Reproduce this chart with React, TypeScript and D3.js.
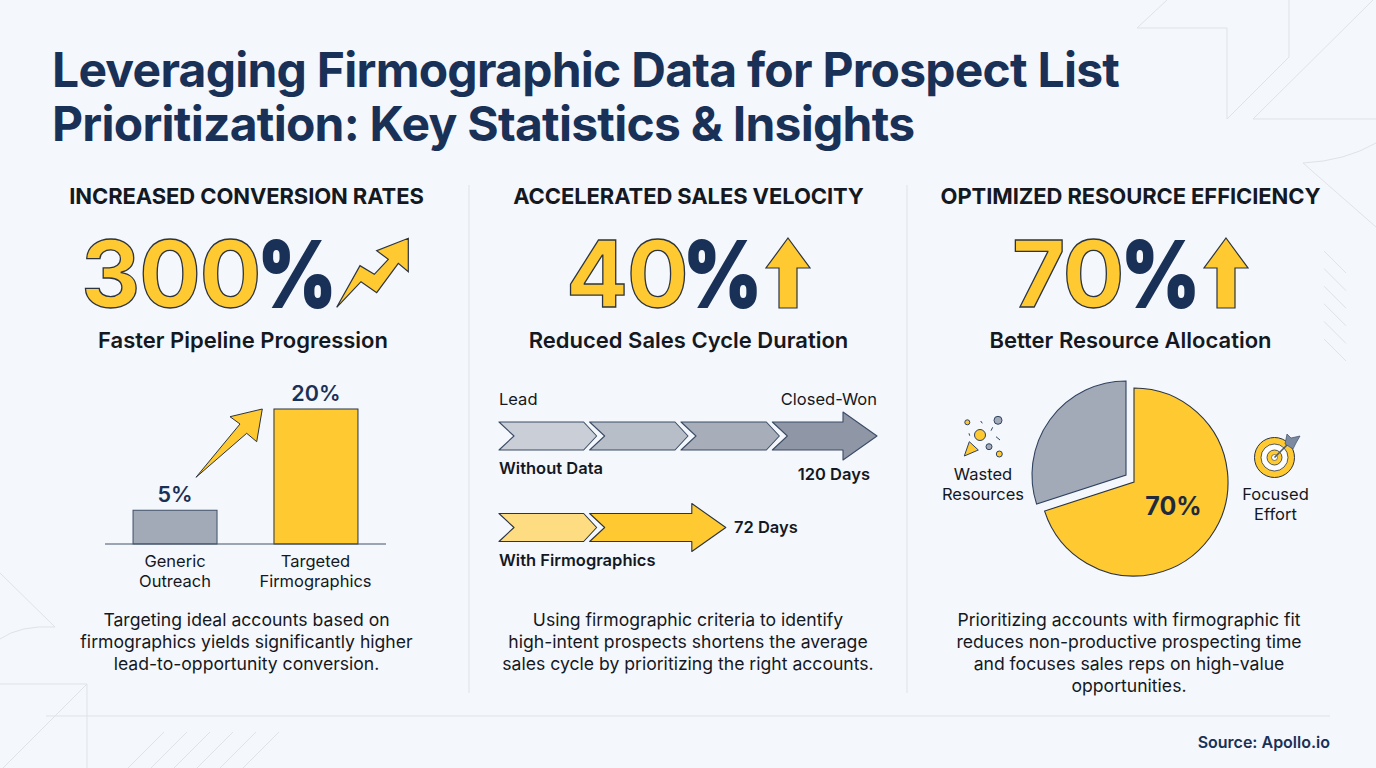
import React from "react";
import * as d3 from "d3";

const titleLines = ["Leveraging Firmographic Data for Prospect List", "Prioritization: Key Statistics & Insights"];
const headers = ["INCREASED CONVERSION RATES", "ACCELERATED SALES VELOCITY", "OPTIMIZED RESOURCE EFFICIENCY"];
const bigValues = ["300", "40", "70"];
const subheads = ["Faster Pipeline Progression", "Reduced Sales Cycle Duration", "Better Resource Allocation"];
const bodies = [
  ["Targeting ideal accounts based on", "firmographics yields significantly higher", "lead-to-opportunity conversion."],
  ["Using firmographic criteria to identify", "high-intent prospects shortens the average", "sales cycle by prioritizing the right accounts."],
  ["Prioritizing accounts with firmographic fit", "reduces non-productive prospecting time", "and focuses sales reps on high-value", "opportunities."],
];
const barCategories = [["Generic", "Outreach"], ["Targeted", "Firmographics"]];
const barValues = [5, 20];
const withoutDataDays = [31, 60, 89, 120];
const withFirmoDays = [31, 72];
const pieValues = [70, 30];

const NAVY = "#1a3157";
const INK = "#14181f";
const YELLOW = "#fec931";
const GREY = "#a2aab7";
const LINE = "#dfe3e9";
const FONT = "Inter, sans-serif";

const poly = (pts: number[][], ox: number, oy: number) =>
  pts.map(([x, y]) => `${(ox + x / 3).toFixed(1)},${(oy + y / 3).toFixed(1)}`).join(" ");

const zigzag = [[830, 262], [900, 137], [943, 163], [985, 118], [950, 92], [1045, 55], [1045, 155], [1015, 130], [950, 218], [903, 185]];
const barArrow = [[408, 772], [540, 612], [510, 590], [607, 567], [590, 665], [560, 640]];

function UpArrow({ cx }: { cx: number }) {
  const pts = [[cx, 238], [cx + 22, 268], [cx + 9, 268], [cx + 9, 308], [cx - 9, 308], [cx - 9, 268], [cx - 22, 268]];
  return <polygon points={pts.map((p) => p.join(",")).join(" ")} fill={YELLOW} stroke="#2b3440" strokeWidth={1.2} />;
}

function Big({ x, value, px, pw }: { x: number; value: string; px: number; pw: number }) {
  return (
    <g fontFamily={FONT} fontSize={92}>
      <text x={x} y={307} fontWeight={700} letterSpacing={-1.5} fill={YELLOW} stroke="#2b3440" strokeWidth={1.3}>{value}</text>
      <text x={0} y={0} fontWeight={800} textAnchor="middle" fill={NAVY} stroke={NAVY} strokeWidth={2}
        transform={`translate(${px + pw / 2},307) scale(0.84,0.98)`}>%</text>
    </g>
  );
}

function chevronPath(x0: number, x1: number, cy: number, h: number) {
  const n = 15;
  return `M${x0},${cy - h} L${x1 - 13},${cy - h} L${x1},${cy} L${x1 - 13},${cy + h} L${x0},${cy + h} L${x0 + n},${cy} Z`;
}
function arrowPath(x0: number, x1: number, cy: number, h: number, hh: number) {
  return `M${x0},${cy - h} L${x1 - 34},${cy - h} L${x1 - 34},${cy - hh} L${x1},${cy} L${x1 - 34},${cy + hh} L${x1 - 34},${cy + h} L${x0},${cy + h} L${x0 + 15},${cy} Z`;
}

export default function App() {
  const yBar = d3.scaleLinear().domain([0, 20]).range([544, 409]);
  const xBar = d3.scaleBand<number>().domain([0, 1]).range([104, 387]).paddingInner(0.404).paddingOuter(0.206);
  const xDays = d3.scaleLinear().domain([0, 120]).range([499, 877]);
  const pie = d3.pie<number>().sort(null).startAngle(0).endAngle(2 * Math.PI)(pieValues);
  const arc = d3.arc<d3.PieArcDatum<number>>().innerRadius(0).outerRadius(94);

  const greyFills = ["#c9ced7", "#b7bec8", "#a7aeba", "#8f97a6"];
  const yellowFills = ["#fddc82", YELLOW];
  const text = { fontFamily: FONT, textAnchor: "middle" as const };

  return (
    <svg width={1376} height={768} viewBox="0 0 1376 768" style={{ position: "fixed", left: 0, top: 0, display: "block" }}>
      <rect width={1376} height={768} fill="#f4f7fb" />
      <g fill="none" stroke={LINE} strokeWidth={1}>
        <polyline points="1167,0 1137,28 1227,28 1227,119 1289,57 1289,0" />
        <polyline points="1373,0 1253,119 1376,119" />
        <path d="M1376,143 Q1345,161 1303,163 L1376,227" />
        <path d="M0,573 L55,627 Q20,625 0,639" />
        <polyline points="0,684 87,684 87,768" />
        <line x1={87} y1={684} x2={3} y2={768} />
        <line x1={46} y1={716} x2={1330} y2={716} />
        <line x1={469} y1={185} x2={469} y2={693} />
        <line x1={907} y1={185} x2={907} y2={693} />
        {d3.range(6).map((i) => <line key={i} x1={1324} y1={251 + i * 17.6} x2={1346} y2={273 + i * 17.6} />)}
        {d3.range(6).map((i) => <line key={i} x1={128 + i * 23} y1={768} x2={164 + i * 23} y2={732} />)}
      </g>

      {titleLines.map((t, i) => (
        <text key={t} x={52} y={87 + i * 54} fontFamily={FONT} fontWeight={700} fontSize={48} letterSpacing={-0.75} fill={NAVY}>{t}</text>
      ))}

      {headers.map((h, i) => (
        <text key={h} {...text} x={[246.5, 688.5, 1130.5][i]} y={204} fontWeight={700} fontSize={22} letterSpacing={-0.1} fill={INK}>{h}</text>
      ))}
      {subheads.map((h, i) => (
        <text key={h} {...text} x={[243, 688.5, 1130.5][i]} y={347.5} fontWeight={600} fontSize={22} fill={INK}>{h}</text>
      ))}
      {bodies.map((lines, i) =>
        lines.map((l, j) => (
          <text key={l} {...text} x={[246.5, 688, 1129][i]} y={626 + j * 22} fontSize={17.6} fill={INK}>{l}</text>
        ))
      )}

      <Big x={81} value={bigValues[0]} px={262} pw={70} />
      <polygon points={poly(zigzag, 60, 220)} fill={YELLOW} stroke="#2b3440" strokeWidth={1.2} />
      <Big x={566} value={bigValues[1]} px={689} pw={67} />
      <UpArrow cx={788} />
      <Big x={1012} value={bigValues[2]} px={1127} pw={67} />
      <UpArrow cx={1226} />

      {/* bar chart */}
      {barValues.map((v, i) => (
        <g key={i}>
          <rect x={xBar(i)} y={yBar(v)} width={xBar.bandwidth()} height={yBar(0) - yBar(v)} fill={i === 0 ? GREY : YELLOW} stroke={i === 0 ? "#3e4f68" : "#2b3440"} strokeWidth={1} />
          <text {...text} x={xBar(i)! + xBar.bandwidth() / 2} y={yBar(v) - 8} fontWeight={600} fontSize={21.5} fill={NAVY}>{v}%</text>
          {barCategories[i].map((c, j) => (
            <text key={c} {...text} x={xBar(i)! + xBar.bandwidth() / 2 - (i === 1 ? 0.5 : 0)} y={566.5 + j * 20} fontSize={16.5} fill={INK}>{c}</text>
          ))}
        </g>
      ))}
      <line x1={105} x2={386} y1={544} y2={544} stroke="#42536c" strokeWidth={1.2} />
      <polygon points={poly(barArrow, 60, 220)} fill={YELLOW} stroke="#2b3440" strokeWidth={1} />

      {/* process arrows */}
      <text x={499} y={405} fontFamily={FONT} fontSize={16.5} fill={INK}>Lead</text>
      <text x={877} y={405} fontFamily={FONT} fontSize={16.5} fill={INK} textAnchor="end">Closed-Won</text>
      {withoutDataDays.map((d, i) => {
        const x0 = i === 0 ? xDays(0) : xDays(withoutDataDays[i - 1]) - 7;
        const last = i === withoutDataDays.length - 1;
        return (
          <path key={d} d={last ? arrowPath(x0, xDays(d), 436, 14, 24) : chevronPath(x0, xDays(d), 436, 14)} fill={greyFills[i]} stroke="#3b4c66" strokeWidth={1.1} strokeLinejoin="round" />
        );
      })}
      <text x={499} y={474} fontFamily={FONT} fontSize={16.5} fontWeight={600} fill={INK}>Without Data</text>
      <text x={870} y={480} fontFamily={FONT} fontSize={16.5} fontWeight={600} fill={INK} textAnchor="end">120 Days</text>
      {withFirmoDays.map((d, i) => {
        const x0 = i === 0 ? xDays(0) : xDays(withFirmoDays[i - 1]) - 7;
        const last = i === withFirmoDays.length - 1;
        return (
          <path key={d} d={last ? arrowPath(x0, xDays(d), 527.5, 14, 24) : chevronPath(x0, xDays(d), 527.5, 14)} fill={yellowFills[i]} stroke="#2b3440" strokeWidth={1.1} strokeLinejoin="round" />
        );
      })}
      <text x={734} y={533} fontFamily={FONT} fontSize={16.5} fontWeight={600} fill={INK}>72 Days</text>
      <text x={499} y={566} fontFamily={FONT} fontSize={16.5} fontWeight={600} fill={INK}>With Firmographics</text>

      {/* pie */}
      <g transform="translate(1134,482)">
        <path d={arc(pie[0])!} fill={YELLOW} stroke="#2b3440" strokeWidth={1.1} />
      </g>
      <g transform="translate(1126,475)">
        <path d={arc(pie[1])!} fill={GREY} stroke="#2f4261" strokeWidth={1.1} />
      </g>
      <text {...text} x={1173.5} y={515} fontWeight={700} fontSize={25} fill="#1f2b3c">{pieValues[0]}%</text>
      <text {...text} x={983} y={480} fontSize={16.5} fill={INK}>Wasted</text>
      <text {...text} x={983} y={500} fontSize={16.5} fill={INK}>Resources</text>
      <text {...text} x={1275.5} y={500} fontSize={16.5} fill={INK}>Focused</text>
      <text {...text} x={1275.5} y={520} fontSize={16.5} fill={INK}>Effort</text>

      {/* wasted icon */}
      <g stroke="#2f4261" strokeWidth={1}>
        <circle cx={967.3} cy={422.3} r={2.5} fill={YELLOW} />
        <circle cx={998} cy={420.3} r={4} fill={GREY} />
        <circle cx={980} cy={435} r={5.5} fill={YELLOW} />
        <circle cx={989} cy={446.7} r={3} fill={GREY} />
        <circle cx={999.3} cy={454} r={3} fill={YELLOW} />
        <polygon points="964.3,456 978.3,450 969.3,441.7" fill={YELLOW} />
        <line x1={980.7} y1={421} x2={982.3} y2={423.3} />
        <line x1={969} y1={433.3} x2={969.7} y2={435.7} />
        <line x1={991} y1={430.7} x2={992.7} y2={427.3} />
        <line x1={996} y1={436.7} x2={1000} y2={440} />
      </g>

      {/* target icon */}
      <g>
        <circle cx={1274.5} cy={457.5} r={20} fill={YELLOW} stroke="#2b3440" strokeWidth={1} />
        <circle cx={1274.5} cy={457.5} r={13.5} fill="#fbfcfd" stroke="#2b3440" strokeWidth={0.8} />
        <circle cx={1274.5} cy={457.5} r={7.5} fill={YELLOW} stroke="#2b3440" strokeWidth={0.8} />
        <circle cx={1274.5} cy={457.5} r={3} fill="#fbfcfd" stroke="#2b3440" strokeWidth={0.6} />
        <line x1={1274.5} y1={457.5} x2={1291} y2={441} stroke="#4a5a72" strokeWidth={1.6} />
        <polygon points="1285,444 1287,434 1291,438 1300,436 1296,443 1293,449" fill="#7b8aa0" stroke="#3e4f68" strokeWidth={0.7} />
      </g>

      <text x={1330} y={748} fontFamily={FONT} fontSize={16} fontWeight={600} fill={NAVY} textAnchor="end">Source: Apollo.io</text>
    </svg>
  );
}
